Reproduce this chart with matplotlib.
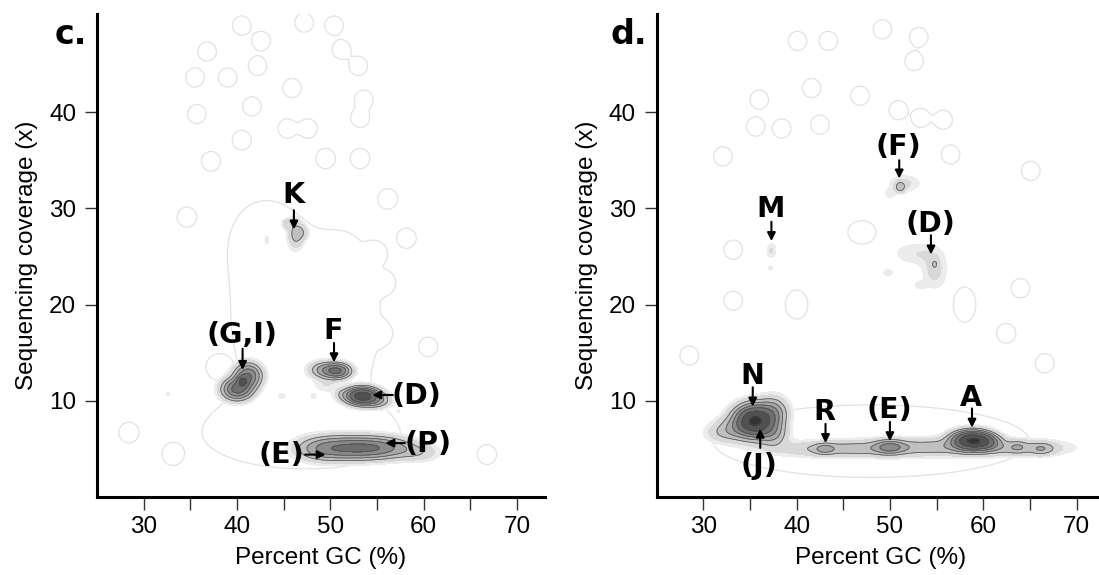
import numpy as np
import matplotlib
matplotlib.use("Agg")
import matplotlib.pyplot as plt

# Density clusters: (gc %, coverage x, gc spread, coverage spread, peak)
clusters_c = [
    (46.3, 27.3, 0.55, 1.0, 5.0), (45.4, 28.4, 0.4, 0.35, 3.0), (47.0, 27.5, 0.5, 0.5, 2.5),
    (43.2, 26.7, 0.25, 0.5, 1.3),
    (40.0, 11.2, 1.0, 0.7, 18.0), (41.2, 12.6, 0.9, 0.8, 16.0), (40.6, 12.0, 0.35, 0.35, 12.0),
    (49.3, 13.2, 1.0, 0.55, 8.0), (50.8, 13.1, 0.9, 0.5, 16.0), (49.5, 11.6, 0.9, 0.5, 1.8),
    (53.4, 10.5, 1.1, 0.55, 30.0), (55.0, 10.0, 1.0, 0.5, 6.0), (51.3, 10.7, 0.6, 0.4, 2.0),
    (52.0, 5.1, 2.5, 0.75, 14.0), (55.5, 5.1, 2.2, 0.7, 10.0), (49.0, 5.0, 1.8, 0.8, 6.0),
    (59.5, 4.6, 1.5, 0.6, 3.0),
    (32.6, 10.7, 0.2, 0.2, 1.5), (44.8, 10.5, 0.4, 0.25, 1.5), (48.2, 10.5, 0.3, 0.3, 1.3),
    (57.3, 8.9, 0.2, 0.2, 1.2),
]
clusters_d = [
    (35.5, 7.9, 1.3, 1.0, 38.0), (37.5, 8.8, 1.0, 1.0, 8.0), (33.0, 7.0, 1.3, 0.8, 5.0),
    (37.5, 6.5, 1.0, 0.8, 6.0),
    (45.0, 5.0, 5.0, 0.55, 5.0), (55.0, 5.2, 5.0, 0.6, 5.0), (64.0, 5.1, 3.5, 0.55, 4.0),
    (31.5, 6.6, 1.2, 0.6, 1.5),
    (43.0, 5.0, 0.7, 0.35, 5.0), (50.0, 5.2, 1.0, 0.45, 9.0),
    (58.8, 5.9, 1.3, 0.6, 35.0), (60.5, 5.7, 0.9, 0.5, 8.0),
    (66.3, 5.0, 0.8, 0.4, 4.0), (63.7, 5.2, 0.6, 0.4, 3.0),
    (51.1, 32.2, 0.35, 0.35, 5.0), (51.6, 32.6, 1.2, 0.6, 2.2), (50.0, 31.5, 0.5, 0.4, 1.3),
    (52.8, 25.3, 1.7, 0.8, 1.9), (54.8, 23.5, 0.9, 1.3, 2.5), (54.8, 24.2, 0.25, 0.35, 2.2),
    (49.8, 23.3, 0.5, 0.35, 1.4), (53.2, 22.0, 0.5, 0.35, 1.3),
    (37.3, 25.6, 0.35, 0.55, 2.2), (37.2, 23.8, 0.25, 0.25, 1.3),
]

# Broad faint background regions
background_c = [(47.0, 6.5, 8.5, 2.8, 0.5), (45.0, 17.0, 5.5, 6.0, 0.4), (43.0, 27.0, 3.5, 4.0, 0.35),
                (52.0, 20.0, 3.0, 7.0, 0.35)]
background_d = [(48.0, 5.8, 13.5, 3.0, 0.55), (40.0, 20.0, 2.0, 2.5, 0.3),
                (47.0, 27.5, 2.5, 2.0, 0.3), (58.0, 20.0, 2.0, 3.0, 0.3)]

# Isolated contigs (faint rings)
singles_c = [
    (40.5, 49.0), (47.2, 49.3), (50.4, 49.0), (42.6, 47.4), (51.2, 46.5), (36.8, 46.3),
    (42.2, 44.8), (53.0, 44.8), (35.5, 43.6), (39.0, 43.6), (45.9, 42.5), (53.6, 41.3),
    (41.6, 40.6), (35.7, 39.8), (45.4, 38.3), (47.6, 38.3), (40.5, 37.1), (53.2, 39.4),
    (37.2, 34.9), (49.5, 35.2), (53.2, 35.2), (56.2, 31.0), (58.2, 26.9), (34.6, 29.1),
    (54.9, 25.3), (53.6, 22.3), (55.8, 22.3), (47.6, 20.4), (55.4, 17.0), (60.5, 15.6),
    (28.4, 6.7), (66.8, 4.4), (33.1, 4.4), (37.9, 13.5),
]
singles_d = [
    (40.1, 47.4), (43.4, 47.4), (49.2, 48.6), (53.1, 47.8), (52.6, 45.3), (41.6, 42.5),
    (36.0, 41.3), (46.8, 41.7), (50.9, 40.2), (53.3, 39.4), (55.7, 39.2), (35.6, 38.5),
    (38.4, 38.3), (42.5, 38.7), (32.1, 35.4), (65.1, 33.9), (56.5, 35.6), (33.2, 25.7),
    (33.2, 20.4), (64.0, 21.7), (28.5, 14.7), (66.6, 13.9), (62.5, 17.0),
]

# Annotations: label, text position, arrow tail, arrow head
labels_c = [
    ("K", (46.1, 31.4), (46.1, 29.8), (46.1, 27.8)),
    ("(G,I)", (40.5, 16.8), (40.6, 15.4), (40.6, 13.2)),
    ("F", (50.3, 17.3), (50.4, 16.0), (50.4, 14.0)),
    ("(D)", (59.2, 10.5), (56.7, 10.6), (54.5, 10.6)),
    ("(P)", (60.5, 5.5), (58.0, 5.6), (55.9, 5.6)),
    ("(E)", (44.8, 4.4), (47.3, 4.4), (49.5, 4.4)),
]
labels_d = [
    ("(F)", (50.9, 36.4), (51.0, 35.0), (51.0, 33.1)),
    ("M", (37.2, 29.9), (37.3, 28.6), (37.3, 26.6)),
    ("(D)", (54.3, 28.4), (54.4, 27.2), (54.4, 25.2)),
    ("N", (35.2, 12.6), (35.3, 11.4), (35.3, 9.4)),
    ("(J)", (36.0, 3.2), (36.1, 5.1), (36.1, 7.1)),
    ("R", (43.0, 8.8), (43.1, 7.6), (43.1, 5.6)),
    ("(E)", (49.9, 9.0), (50.0, 7.8), (50.0, 5.8)),
    ("A", (58.7, 10.3), (58.8, 9.2), (58.8, 7.2)),
]

xticks = [30, 40, 50, 60, 70]
xminor = [35, 45, 55, 65]
yticks = [10, 20, 30, 40]

gx = np.linspace(24, 74, 500)
gy = np.linspace(-1, 51, 500)
X, Y = np.meshgrid(gx, gy)


def density(comps):
    z = np.zeros_like(X)
    for cx, cy, sx, sy, pk in comps:
        z += pk * np.exp(-0.5 * (((X - cx) / sx) ** 2 + ((Y - cy) / sy) ** 2))
    return z


levels = [1, 2, 4, 7, 11, 16, 24, 36, 1000]
greys = ["#ececec", "#d8d8d8", "#c0c0c0", "#a6a6a6", "#8a8a8a", "#6e6e6e", "#515151", "#343434"]

plt.rcParams["font.family"] = ["Liberation Sans", "DejaVu Sans"]
fig = plt.figure(figsize=(10.99, 5.75), dpi=100)
ax_c = fig.add_axes([0.0883, 0.1357, 0.4075, 0.84])
ax_d = fig.add_axes([0.5975, 0.1357, 0.4075, 0.84])

panels = [
    (ax_c, clusters_c, background_c, singles_c, labels_c, "c."),
    (ax_d, clusters_d, background_d, singles_d, labels_d, "d."),
]

for ax, comps, bg, singles, labels, tag in panels:
    z = density(comps)
    faint = density(bg) + density([(sx, sy, 0.65, 0.65, 0.8) for sx, sy in singles])
    # faint outlines sit underneath the filled density
    ax.contour(X, Y, faint, levels=[0.25], colors="#e2e2e2", linewidths=0.9, zorder=0.5)
    cs = ax.contourf(X, Y, z, levels=levels, colors=greys, zorder=1)
    cs.set_edgecolor("face")
    cs.set_linewidth(0.3)
    ax.contour(X, Y, z, levels=levels[2:-1], colors="#4a4a4a", linewidths=0.5, zorder=2)

    for text, tpos, tail, head in labels:
        ax.text(tpos[0], tpos[1], text, ha="center", va="center", fontsize=20.5,
                fontweight="bold", family="DejaVu Sans", zorder=4)
        ax.annotate("", xy=head, xytext=tail, zorder=4,
                    arrowprops=dict(arrowstyle="-|>", color="black", lw=1.5,
                                    mutation_scale=12, shrinkA=0, shrinkB=0))

    ax.set_xlim(25, 73)
    ax.set_ylim(0, 50.2)
    ax.set_xticks(xticks)
    ax.set_xticks(xminor, minor=True)
    ax.set_yticks(yticks)
    ax.tick_params(axis="both", which="both", direction="out", length=9, width=1,
                   color="#333333", labelsize=17.5)
    ax.tick_params(axis="y", pad=6)
    ax.tick_params(axis="x", pad=5)
    for side in ("top", "right"):
        ax.spines[side].set_visible(False)
    for side in ("left", "bottom"):
        ax.spines[side].set_linewidth(2.2)
    ax.set_xlabel("Percent GC (%)", fontsize=17.5, labelpad=6)
    ax.set_ylabel("Sequencing coverage (x)", fontsize=17.5, labelpad=8)
    ax.text(-0.022, 0.992, tag, transform=ax.transAxes, ha="right", va="top",
            fontsize=24, fontweight="bold", family="DejaVu Sans")

fig.savefig("out.png", dpi=100)
